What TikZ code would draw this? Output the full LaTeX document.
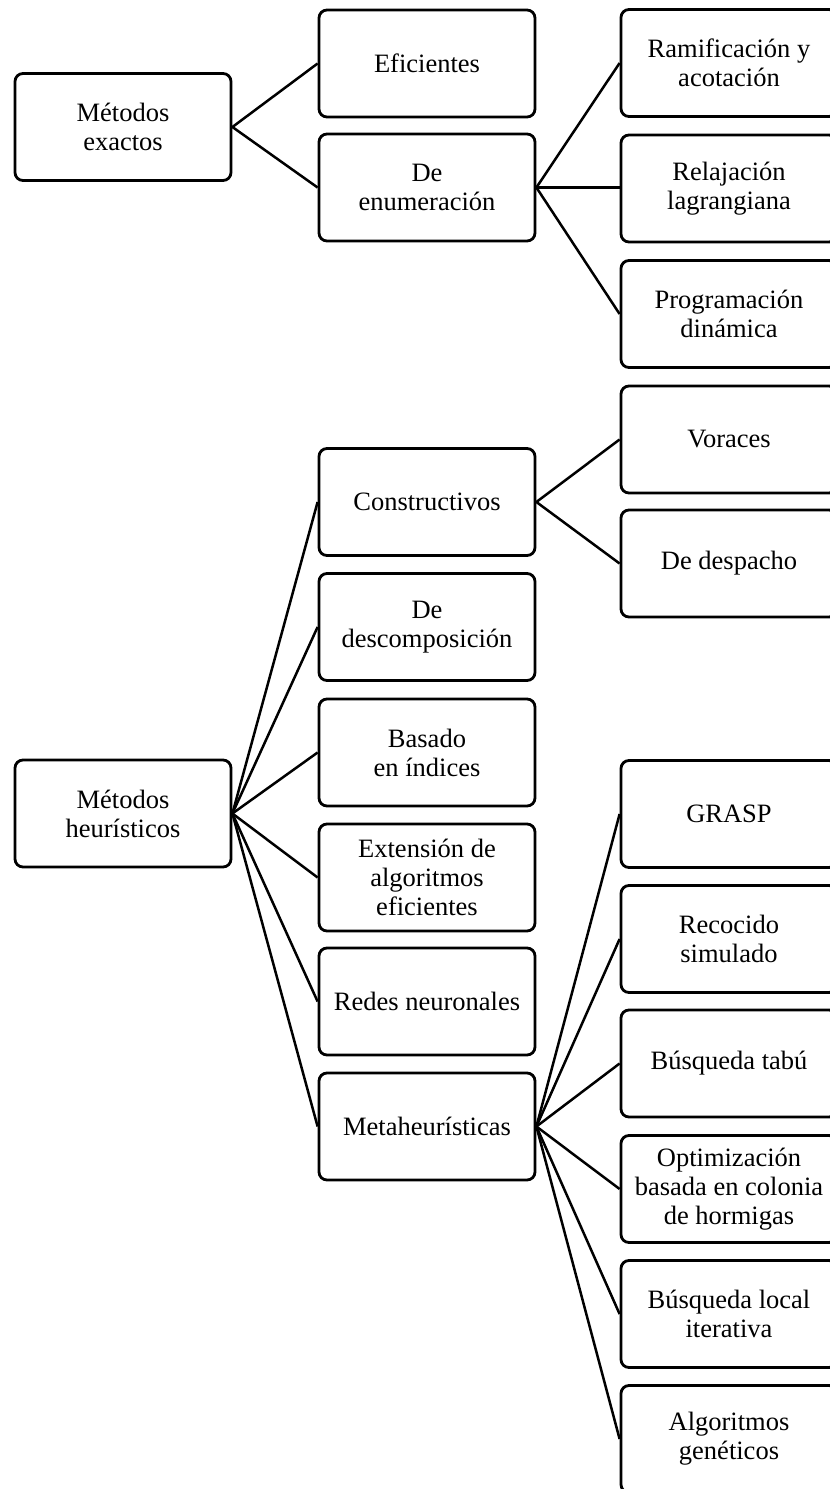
\documentclass[tikz,border=0pt]{standalone}
\usepackage{fontspec}
\setmainfont{Liberation Serif}
\begin{document}
\begin{tikzpicture}[x=1pt,y=-1pt,
  box/.style={draw, line width=2.8pt, rounded corners=8pt,
    minimum width=216pt, minimum height=107pt, inner sep=0pt,
    align=center, font=\fontsize{26.5}{29}\selectfont},
  link/.style={line width=2.5pt}]
\path[use as bounding box, clip] (0,0) rectangle (830,1489);

% exact methods
\node[box] (exact) at (123,127) {Métodos\\exactos};
\node[box] (efi)   at (427,63.5) {Eficientes};
\node[box] (enum)  at (427,187.5) {De\\enumeración};
\node[box] (ramif) at (729,63) {Ramificación y\\acotación};
\node[box] (relaj) at (729,188.5) {Relajación\\lagrangiana};
\node[box] (prog)  at (729,314) {Programación\\dinámica};

% heuristic methods
\node[box] (heur)  at (123,813.5) {Métodos\\heurísticos};
\node[box] (cons)  at (427,502) {Constructivos};
\node[box] (desc)  at (427,627) {De\\descomposición};
\node[box] (indi)  at (427,752.5) {Basado\\en índices};
\node[box] (ext)   at (427,877.5) {Extensión de\\algoritmos\\eficientes};
\node[box] (redes) at (427,1001.5) {Redes neuronales};
\node[box] (meta)  at (427,1126.5) {Metaheurísticas};

\node[box] (vor)   at (729,439.5) {Voraces};
\node[box] (desp)  at (729,563.5) {De despacho};

\node[box] (grasp) at (729,814) {GRASP};
\node[box] (recoc) at (729,939) {Recocido\\simulado};
\node[box] (tabu)  at (729,1063.5) {Búsqueda tabú};
\node[box] (hormi) at (729,1189) {Optimización\\basada en colonia\\de hormigas};
\node[box] (local) at (729,1314) {Búsqueda local\\iterativa};
\node[box] (genet) at (729,1439) {Algoritmos\\genéticos};

% connectors
\foreach \c in {efi,enum} \draw[link] (exact.east) -- (\c.west);
\draw[link] (enum.east) -- (ramif.west);
\draw[link] (enum.east) -- (enum.east -| relaj.west);
\draw[link] (enum.east) -- (prog.west);
\foreach \c in {cons,desc,indi,ext,redes,meta} \draw[link] (heur.east) -- (\c.west);
\foreach \c in {vor,desp} \draw[link] (cons.east) -- (\c.west);
\foreach \c in {grasp,recoc,tabu,hormi,local,genet} \draw[link] (meta.east) -- (\c.west);
\end{tikzpicture}
\end{document}
